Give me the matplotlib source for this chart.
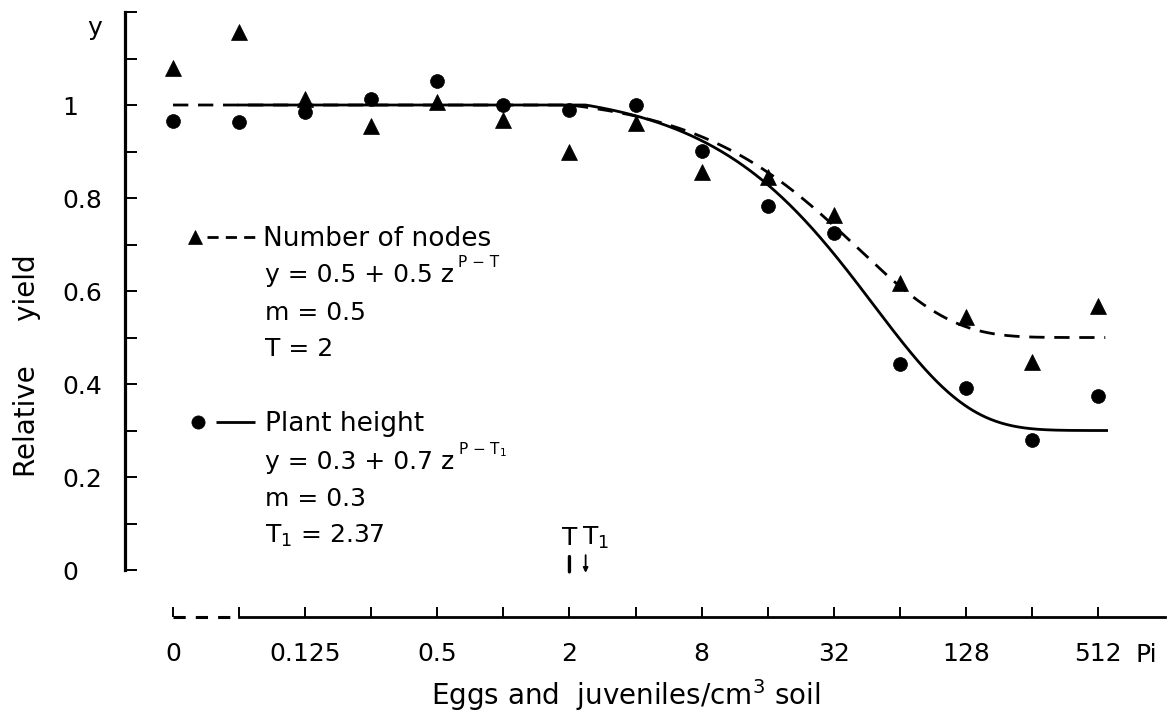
import numpy as np
import matplotlib
matplotlib.use("Agg")
import matplotlib.pyplot as plt
from matplotlib.lines import Line2D
from matplotlib.legend_handler import HandlerBase

# ---------------- data ----------------
density = [0, 1/16, 1/8, 1/4, 1/2, 1, 2, 4, 8, 16, 32, 64, 128, 256, 512]   # eggs & juveniles / cm3
nodes = [1.080, 1.157, 1.012, 0.954, 1.006, 0.968, 0.898, 0.961,
         0.855, 0.846, 0.763, 0.617, 0.544, 0.447, 0.568]
height = [0.966, 0.963, 0.985, 1.013, 1.052, 1.000, 0.990, 1.000,
          0.902, 0.783, 0.725, 0.443, 0.391, 0.280, 0.374]

xtick_values = [0, 0.125, 0.5, 2, 8, 32, 128, 512]
xtick_labels = ["0", "0.125", "0.5", "2", "8", "32", "128", "512"]
xminor_values = [1/16, 1/4, 1, 4, 16, 64, 256]
ytick_values = [0, 0.2, 0.4, 0.6, 0.8, 1.0]
ytick_labels = ["0", "0.2", "0.4", "0.6", "0.8", "1"]
yminor_values = [0.1, 0.3, 0.5, 0.7, 0.9, 1.1, 1.2]

# Seinhorst model parameters shown on the chart
m_nodes, T_nodes = 0.5, 2.0
m_height, T_height = 0.3, 2.37

ZERO_POS = -5  # position used for P = 0 on the broken log2 axis


def pos(p):
    p = np.asarray(p, dtype=float)
    with np.errstate(divide="ignore"):
        return np.where(p > 0, np.log2(np.where(p > 0, p, 1)), ZERO_POS)


def seinhorst(p, m, T):
    z = 1.05 ** (-1.0 / T)
    p = np.asarray(p, dtype=float)
    return np.where(p <= T, 1.0, m + (1 - m) * z ** (p - T))


plt.rcParams["font.family"] = ["DejaVu Sans"]
plt.rcParams["mathtext.fontset"] = "dejavusans"
plt.rcParams["mathtext.default"] = "regular"

W, H = 1176, 722
fig = plt.figure(figsize=(W / 100, H / 100), dpi=100, facecolor="white")
ax = fig.add_axes([125 / W, 1 - 617 / H, (1165 - 125) / W, (617 - 12) / H])
ax.set_xlim(-5.727, 10.014)
ax.set_ylim(-0.101, 1.2)
ax.set_facecolor("white")

# ---------------- model curves ----------------
k_dash = np.linspace(ZERO_POS, 9.11, 800)
k_solid = np.linspace(-4, 9.13, 800)
curve_nodes, = ax.plot(k_dash, seinhorst(2.0 ** k_dash, m_nodes, T_nodes),
                       color="black", lw=2.0, ls=(0, (5.5, 3.5)), zorder=2)
curve_height, = ax.plot(k_solid, seinhorst(2.0 ** k_solid, m_height, T_height),
                        color="black", lw=2.0, ls="-", zorder=2)

# ---------------- data points ----------------
pts_nodes, = ax.plot(pos(density), nodes, ls="none", marker="^", ms=11,
                     color="black", mec="black", mew=0.5, zorder=3)
pts_height, = ax.plot(pos(density), height, ls="none", marker="o", ms=10,
                      color="black", mec="black", mew=0.5, zorder=3)

# ---------------- axes styling ----------------
for s in ("top", "right"):
    ax.spines[s].set_visible(False)
ax.spines["left"].set_bounds(0, 1.2)
ax.spines["left"].set_linewidth(2.3)
ax.spines["bottom"].set_bounds(-4, 10.014)
ax.spines["bottom"].set_linewidth(2.0)
# dashed part of the broken x axis (between 0 and the first log step)
ax.plot(pos([0, 1/16]), [0, 0], transform=ax.get_xaxis_transform(),
        color="black", lw=2.2, ls=(0, (4, 3.3)), clip_on=False, solid_capstyle="butt")

ax.set_xticks(pos(xtick_values))
ax.set_xticklabels(xtick_labels)
ax.set_xticks(pos(xminor_values), minor=True)
ax.set_yticks(ytick_values)
ax.set_yticklabels(ytick_labels)
ax.set_yticks(yminor_values, minor=True)

ax.tick_params(axis="x", which="both", direction="in", length=7.2, width=1.4,
               labelsize=18, pad=18)
ax.tick_params(axis="y", which="both", direction="in", length=8.6, width=1.4,
               labelsize=18, pad=45)
plt.setp(ax.get_yticklabels(), ha="left")

ax.text(pos(512) + 0.56, -0.0744, "Pi", transform=ax.get_xaxis_transform(),
        fontsize=18, ha="left", va="baseline", clip_on=False)
ax.text(-0.0365, 0.962, "y", transform=ax.transAxes, fontsize=18,
        ha="left", va="baseline")

ax.set_xlabel("Eggs and  juveniles/cm$^3$ soil", fontsize=20)
ax.xaxis.set_label_coords(0.4817, -0.100)
ax.set_ylabel("Relative     yield", fontsize=20)
ax.yaxis.set_label_coords(-0.0808, 0.4149)

# ---------------- T and T1 marks ----------------
kT, kT1 = float(pos(T_nodes)), float(pos(T_height))
ax.annotate("", xy=(kT, -0.004), xytext=(kT, 0.029),
            arrowprops=dict(arrowstyle="-", lw=2.4, color="black", shrinkA=0, shrinkB=0))
ax.annotate("", xy=(kT1, -0.006), xytext=(kT1, 0.032),
            arrowprops=dict(arrowstyle="-|>", lw=1.3, color="black",
                            mutation_scale=7, shrinkA=0, shrinkB=0))
ax.text(kT, 0.054, "T", fontsize=18, ha="center", va="baseline")
ax.text(kT1 - 0.06, 0.054, "T$_1$", fontsize=18, ha="left", va="baseline")


# ---------------- legend ----------------
class MarkerThenLine(HandlerBase):
    def __init__(self, mk_frac, line_frac, **kw):
        super().__init__(**kw)
        self.mk_frac = mk_frac
        self.line_frac = line_frac

    def create_artists(self, legend, orig_handle, xdescent, ydescent,
                       width, height, fontsize, trans):
        mk, ln = orig_handle
        y = (height - ydescent) / 2
        x0 = -xdescent
        line = Line2D([x0 + self.line_frac * width, x0 + width], [y, y],
                      color=ln.get_color(), lw=ln.get_linewidth(),
                      linestyle=ln.get_linestyle())
        if ln.get_linestyle() != "-":
            line.set_dashes((4, 2.6))
        line.set_solid_capstyle("butt")
        line.set_dash_capstyle("butt")
        marker = Line2D([x0 + self.mk_frac * width], [y], ls="none",
                        marker=mk.get_marker(), ms=mk.get_markersize() * 0.95,
                        color=mk.get_color(), mec=mk.get_markeredgecolor(),
                        mew=mk.get_markeredgewidth())
        for a in (line, marker):
            a.set_transform(trans)
        return [line, marker]


h1 = (pts_nodes, curve_nodes)
h2 = (pts_height, curve_height)
leg1 = ax.legend([h1], ["Number of nodes"], loc="center left",
                 bbox_to_anchor=(0.0606, 0.6241), frameon=False, fontsize=19,
                 borderpad=0, borderaxespad=0, handlelength=2.73, handletextpad=0.12,
                 handler_map={h1: MarkerThenLine(0.10, 0.264)})
ax.add_artist(leg1)
leg2 = ax.legend([h2], ["Plant height"], loc="center left",
                 bbox_to_anchor=(0.0615, 0.3183), frameon=False, fontsize=19,
                 borderpad=0, borderaxespad=0, handlelength=2.5, handletextpad=0.38,
                 handler_map={h2: MarkerThenLine(0.136, 0.41)})

# equation lines
tx = (265 - 125) / 1040
eq1 = ax.text(tx, 0.5537, "y = 0.5 + 0.5 z", transform=ax.transAxes,
              fontsize=18, ha="left", va="baseline")
ax.annotate("P − T", xy=(1, 0), xycoords=eq1, xytext=(4, 20),
            textcoords="offset pixels", fontsize=11, ha="left", va="baseline")
ax.text(tx, 0.4909, "m = 0.5", transform=ax.transAxes, fontsize=18,
        ha="left", va="baseline")
ax.text(tx, 0.4314, "T = 2", transform=ax.transAxes, fontsize=18,
        ha="left", va="baseline")
eq2 = ax.text(tx, 0.2446, "y = 0.3 + 0.7 z", transform=ax.transAxes,
              fontsize=18, ha="left", va="baseline")
ax.annotate("P − T$_1$", xy=(1, 0), xycoords=eq2, xytext=(4, 20),
            textcoords="offset pixels", fontsize=11, ha="left", va="baseline")
ax.text(tx, 0.1835, "m = 0.3", transform=ax.transAxes, fontsize=18,
        ha="left", va="baseline")
ax.text(tx, 0.1223, "T$_1$ = 2.37", transform=ax.transAxes, fontsize=18,
        ha="left", va="baseline")

fig.savefig("out.png", dpi=100, facecolor="white")
